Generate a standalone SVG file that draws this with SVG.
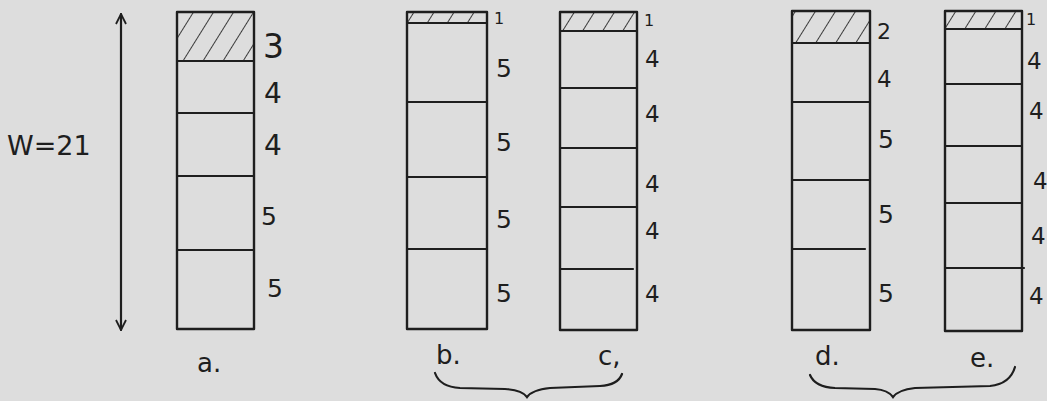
<svg xmlns="http://www.w3.org/2000/svg" width="1047" height="401" viewBox="0 0 1047 401">
<style>
.box{fill:none;stroke:#1e1e1e;stroke-width:2.4;stroke-linejoin:round}
.ln{stroke:#1e1e1e;stroke-width:2.2;fill:none;stroke-linecap:round}
.t{font-family:"DejaVu Sans","Liberation Sans",sans-serif;fill:#1e1e1e}
.n{font-size:25px}
.s{font-size:23px}
.o{font-size:16px}
.lab{font-size:26px}
</style>
<defs>
<marker id="ah" viewBox="0 0 12 12" refX="11" refY="6" markerWidth="12" markerHeight="12" markerUnits="userSpaceOnUse" orient="auto-start-reverse">
<path d="M1 1 L11 6 L1 11" fill="none" stroke="#1e1e1e" stroke-width="1.8"/>
</marker>
<pattern id="hatch" patternUnits="userSpaceOnUse" width="17" height="40" patternTransform="rotate(32)">
<line x1="0" y1="0" x2="0" y2="40" stroke="#1e1e1e" stroke-width="1.7"/>
</pattern>
</defs>
<rect width="1047" height="401" fill="#dddddd"/>
<g id="connectors">
<line class="ln" x1="121" y1="14" x2="121" y2="330" marker-start="url(#ah)" marker-end="url(#ah)"/>
<path class="ln" d="M435 373 Q440 387 460 388 L505 389 Q522 390 527 397 Q532 390 550 388 L600 386 Q618 385 622 374"/>
<path class="ln" d="M810 375 Q815 387 835 388 L875 389 Q888 390 893 397 Q898 390 915 388 L990 386 Q1010 384 1015 367"/>
</g>
<text class="t" x="7" y="155" font-size="27">W=21</text>
<g id="col-a">
<rect x="177" y="12" width="77" height="49" fill="url(#hatch)"/>
<rect class="box" x="177" y="12" width="77" height="317"/>
<line class="ln" x1="177" y1="61" x2="254" y2="61"/>
<line class="ln" x1="177" y1="113" x2="254" y2="113"/>
<line class="ln" x1="177" y1="176" x2="254" y2="176"/>
<line class="ln" x1="177" y1="250" x2="254" y2="250"/>
<text class="t" x="263" y="58" font-size="33">3</text>
<text class="t" x="264" y="103" font-size="28">4</text>
<text class="t" x="264" y="155" font-size="28">4</text>
<text class="t n" x="261" y="225">5</text>
<text class="t n" x="267" y="297">5</text>
<text class="t lab" x="197" y="372">a.</text>
</g>
<g id="col-b">
<rect x="407" y="12" width="80" height="11" fill="url(#hatch)"/>
<rect class="box" x="407" y="12" width="80" height="317"/>
<line class="ln" x1="407" y1="23" x2="487" y2="23"/>
<line class="ln" x1="407" y1="102" x2="487" y2="102"/>
<line class="ln" x1="407" y1="177" x2="487" y2="177"/>
<line class="ln" x1="407" y1="249" x2="487" y2="249"/>
<text class="t o" x="494" y="24">1</text>
<text class="t n" x="496" y="77">5</text>
<text class="t n" x="496" y="151">5</text>
<text class="t n" x="496" y="228">5</text>
<text class="t n" x="496" y="302">5</text>
<text class="t lab" x="436" y="364">b.</text>
</g>
<g id="col-c">
<rect x="560" y="12" width="77" height="19" fill="url(#hatch)"/>
<rect class="box" x="560" y="12" width="77" height="318"/>
<line class="ln" x1="560" y1="31" x2="637" y2="31"/>
<line class="ln" x1="560" y1="88" x2="637" y2="88"/>
<line class="ln" x1="560" y1="148" x2="637" y2="148"/>
<line class="ln" x1="560" y1="207" x2="637" y2="207"/>
<line class="ln" x1="560" y1="269" x2="633" y2="269"/>
<text class="t o" x="644" y="26">1</text>
<text class="t s" x="645" y="67">4</text>
<text class="t s" x="645" y="122">4</text>
<text class="t s" x="645" y="192">4</text>
<text class="t s" x="645" y="239">4</text>
<text class="t s" x="645" y="302">4</text>
<text class="t lab" x="598" y="365">c,</text>
</g>
<g id="col-d">
<rect x="792" y="11" width="78" height="32" fill="url(#hatch)"/>
<rect class="box" x="792" y="11" width="78" height="319"/>
<line class="ln" x1="792" y1="43" x2="870" y2="43"/>
<line class="ln" x1="792" y1="102" x2="870" y2="102"/>
<line class="ln" x1="792" y1="180" x2="870" y2="180"/>
<line class="ln" x1="792" y1="249" x2="865" y2="249"/>
<text class="t" x="877" y="39" font-size="22">2</text>
<text class="t s" x="877" y="87">4</text>
<text class="t n" x="878" y="148">5</text>
<text class="t n" x="878" y="223">5</text>
<text class="t n" x="878" y="302">5</text>
<text class="t lab" x="815" y="365">d.</text>
</g>
<g id="col-e">
<rect x="945" y="11" width="77" height="18" fill="url(#hatch)"/>
<rect class="box" x="945" y="11" width="77" height="320"/>
<line class="ln" x1="945" y1="29" x2="1022" y2="29"/>
<line class="ln" x1="945" y1="84" x2="1022" y2="84"/>
<line class="ln" x1="945" y1="146" x2="1022" y2="146"/>
<line class="ln" x1="945" y1="203" x2="1022" y2="203"/>
<line class="ln" x1="945" y1="268" x2="1024" y2="268"/>
<text class="t o" x="1026" y="25">1</text>
<text class="t s" x="1027" y="69">4</text>
<text class="t s" x="1029" y="119">4</text>
<text class="t s" x="1033" y="189">4</text>
<text class="t s" x="1031" y="244">4</text>
<text class="t s" x="1029" y="304">4</text>
<text class="t lab" x="970" y="367">e.</text>
</g>
</svg>
